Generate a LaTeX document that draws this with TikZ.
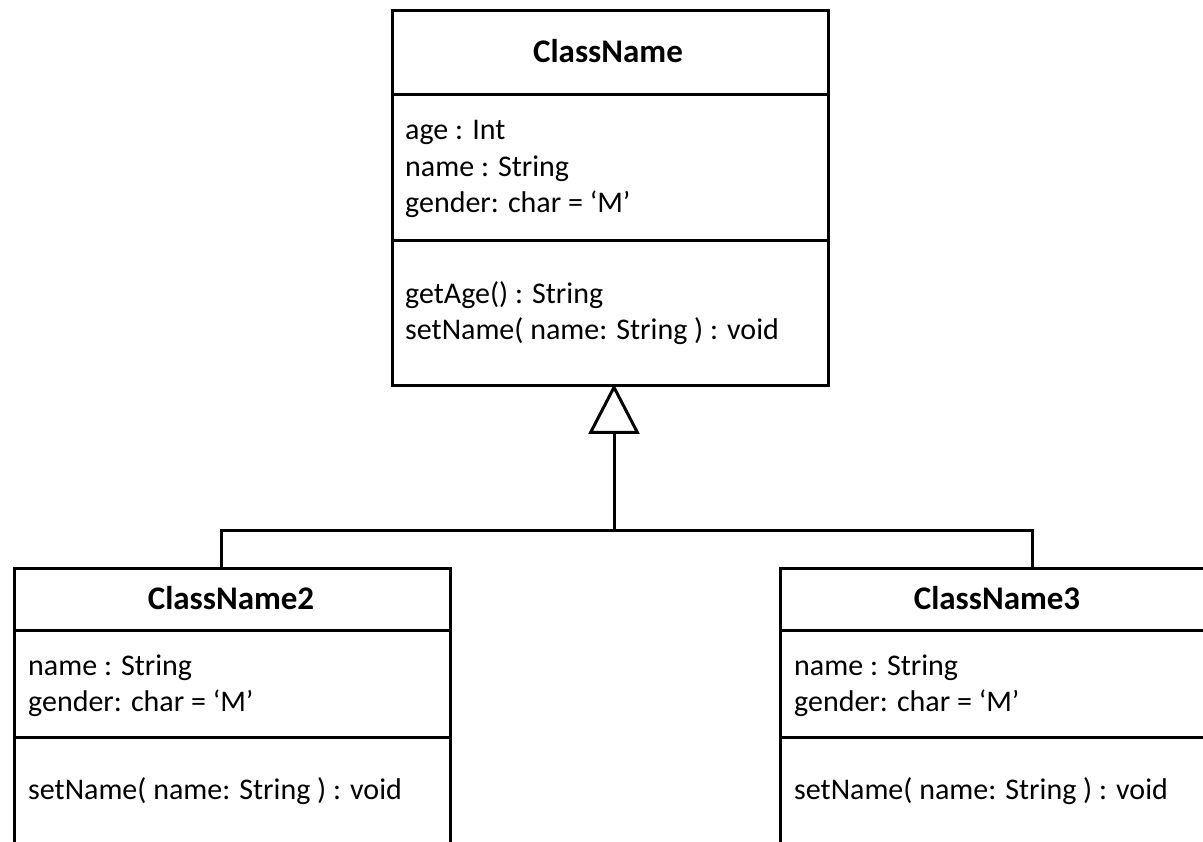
\documentclass[tikz,border=0pt]{standalone}
\usepackage{fontspec}
\setmainfont{Carlito}
\usetikzlibrary{arrows.meta}

\tikzset{
  uml/.style={line width=3pt, draw=black},
  compart/.style={uml, rectangle, inner sep=0pt, anchor=north west, minimum width=436pt},
  cname/.style={anchor=base, inner sep=0pt, font=\fontsize{33pt}{40pt}\selectfont\bfseries},
  member/.style={anchor=base west, inner sep=0pt, font=\fontsize{30pt}{36pt}\selectfont},
  inherit/.style={uml, -{Triangle[open, length=50pt, width=51pt, line width=3pt]}},
}

\begin{document}
\begin{tikzpicture}[x=1pt, y=-1pt]
  \useasboundingbox (0,0) rectangle (1203,842);
  \clip (0,0) rectangle (1203,842);

  % superclass
  \node[compart, minimum height=84pt]  (p-head) at (391,9)   {};
  \node[compart, minimum height=146pt] (p-attr) at (391,93)  {};
  \node[compart, minimum height=145pt] (p-ops)  at (391,239) {};
  \node[cname]  (p-name) at (608,63)  {ClassName};
  \node[member] (p-a1)   at (405,140) {age : Int};
  \node[member] (p-a2)   at (405,177) {name : String};
  \node[member] (p-a3)   at (405,213) {gender: char = ‘M’};
  \node[member] (p-o1)   at (405,304) {getAge() : String};
  \node[member] (p-o2)   at (405,340) {setName( name: String ) : void};

  % first subclass
  \node[compart, minimum height=62pt]  (a-head) at (13,567) {};
  \node[compart, minimum height=107pt] (a-attr) at (13,629) {};
  \node[compart, minimum height=145pt] (a-ops)  at (13,736) {};
  \node[cname]  (a-name) at (231,609) {ClassName2};
  \node[member] (a-a1)   at (28,675)  {name : String};
  \node[member] (a-a2)   at (28,711)  {gender: char = ‘M’};
  \node[member] (a-o1)   at (28,799)  {setName( name: String ) : void};

  % second subclass
  \node[compart, minimum height=62pt]  (b-head) at (779,567) {};
  \node[compart, minimum height=107pt] (b-attr) at (779,629) {};
  \node[compart, minimum height=145pt] (b-ops)  at (779,736) {};
  \node[cname]  (b-name) at (997,609) {ClassName3};
  \node[member] (b-a1)   at (794,675) {name : String};
  \node[member] (b-a2)   at (794,711) {gender: char = ‘M’};
  \node[member] (b-o1)   at (794,799) {setName( name: String ) : void};

  % generalization connectors
  \coordinate (p-port) at (614,384);
  \coordinate (a-port) at (221,567);
  \coordinate (b-port) at (1032,567);
  \coordinate (joint)  at (614,530);
  \draw[uml] (a-port) |- (joint) -| (b-port);
  \draw[inherit] (joint) -- (p-port);
\end{tikzpicture}
\end{document}
